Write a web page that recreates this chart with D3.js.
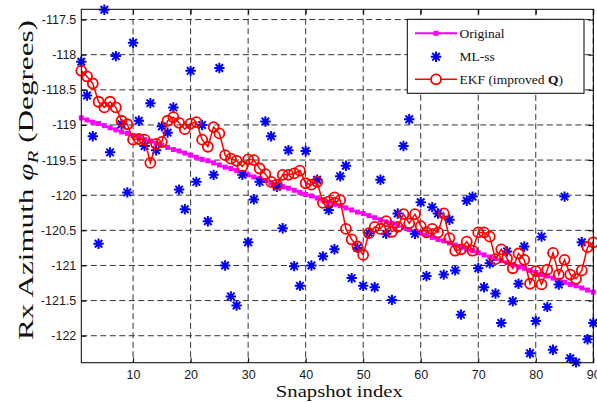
<!DOCTYPE html>
<html>
<head>
<meta charset="utf-8">
<script src="https://cdn.jsdelivr.net/npm/d3@7"></script>
<style>
  body { margin: 0; background: #fff; }
  svg { display: block; }
</style>
</head>
<body>
<script>
'use strict';

{
	// snapshot index 1..90
	let snapshots = d3.range(1, 91);

	let original = [
		-118.90, -118.93, -118.96, -118.98, -119.01, -119.04, -119.07, -119.10, -119.12, -119.15,
		-119.18, -119.21, -119.23, -119.26, -119.29, -119.32, -119.35, -119.37, -119.40, -119.43,
		-119.46, -119.49, -119.51, -119.54, -119.57, -119.60, -119.62, -119.65, -119.68, -119.71,
		-119.74, -119.76, -119.79, -119.82, -119.85, -119.88, -119.90, -119.93, -119.96, -119.99,
		-120.01, -120.04, -120.07, -120.10, -120.13, -120.15, -120.18, -120.21, -120.24, -120.26,
		-120.29, -120.32, -120.35, -120.38, -120.40, -120.43, -120.46, -120.49, -120.52, -120.54,
		-120.57, -120.60, -120.63, -120.65, -120.68, -120.71, -120.74, -120.77, -120.79, -120.82,
		-120.85, -120.88, -120.90, -120.93, -120.96, -120.99, -121.02, -121.04, -121.07, -121.10,
		-121.13, -121.15, -121.18, -121.21, -121.24, -121.27, -121.29, -121.32, -121.35, -121.38
	];

	let mlss = [
		-118.10, -118.58, -119.16, -120.69, -117.36, -119.39, -118.02, -118.99, -119.96, -117.83,
		-118.94, -119.30, -118.69, -119.36, -119.02, -119.11, -118.75, -119.92, -120.20, -118.23,
		-119.81, -119.00, -120.37, -119.71, -118.19, -121.00, -121.44, -121.57, -119.71, -120.67,
		-120.06, -119.81, -118.95, -119.16, -119.88, -120.47, -119.36, -121.01, -121.29, -119.37,
		-121.00, -119.78, -120.87, -120.21, -120.77, -119.73, -119.58, -121.18, -120.75, -121.29,
		-120.54, -121.31, -119.78, -120.55, -121.49, -120.26, -119.30, -118.92, -120.55, -120.10,
		-121.15, -120.17, -120.26, -121.13, -120.35, -121.07, -121.70, -120.08, -120.02, -121.04,
		-121.31, -120.97, -121.40, -121.82, -120.80, -121.51, -121.26, -120.73, -122.25, -121.79,
		-120.59, -121.59, -122.20, -121.27, -120.02, -122.32, -122.38, -120.67, -122.05, -121.82
	];

	let ekf = [
		-118.23, -118.31, -118.41, -118.67, -118.75, -118.67, -118.75, -118.94, -118.99, -119.21,
		-119.20, -119.21, -119.54, -119.27, -119.24, -118.94, -118.89, -118.97, -119.06, -118.98,
		-118.96, -119.21, -119.31, -119.03, -119.12, -119.43, -119.48, -119.51, -119.59, -119.49,
		-119.50, -119.62, -119.70, -119.81, -119.85, -119.71, -119.71, -119.69, -119.65, -119.83,
		-119.85, -119.81, -120.11, -120.09, -120.03, -120.07, -120.48, -120.63, -120.73, -120.85,
		-120.54, -120.45, -120.48, -120.37, -120.52, -120.45, -120.27, -120.40, -120.27, -120.44,
		-120.53, -120.48, -120.53, -120.26, -120.61, -120.79, -120.77, -120.66, -120.79, -120.53,
		-120.53, -120.59, -120.91, -120.77, -120.90, -121.04, -120.83, -120.92, -121.26, -121.08,
		-121.27, -121.06, -120.82, -121.13, -120.92, -121.13, -121.19, -121.07, -120.74, -120.67
	];

	let xTicks = [10, 20, 30, 40, 50, 60, 70, 80, 90];
	let yTicks = [-117.5, -118, -118.5, -119, -119.5, -120, -120.5, -121, -121.5, -122];

	let seriesNames = ["Original", "ML-ss", "EKF (improved "];

	let W = 597, H = 403;
	let box = {left: 81.3, right: 593.3, top: 9.3, bottom: 362.7};

	let svg = d3.select("body").append("svg")
		.attr("width", W)
		.attr("height", H);

	let x = d3.scaleLinear()
		.domain([1, 90])
		.range([box.left, box.right]);

	let y = d3.scaleLinear()
		.domain([-122.384, -117.354])
		.range([box.bottom, box.top]);

	// grid
	let grid = svg.append("g");
	grid.selectAll("line.gx")
		.data(xTicks)
		.enter().append("line")
		.attr("class", "gx")
		.attr("x1", d => x(d)).attr("x2", d => x(d))
		.attr("y1", box.top).attr("y2", box.bottom);
	grid.selectAll("line.gy")
		.data(yTicks)
		.enter().append("line")
		.attr("class", "gy")
		.attr("x1", box.left).attr("x2", box.right)
		.attr("y1", d => y(d)).attr("y2", d => y(d));
	grid.selectAll("line")
		.attr("stroke", "#333")
		.attr("stroke-width", 1)
		.attr("stroke-dasharray", "6,3.5");

	// axes, ticks pointing inward
	let fmt = d => String(d);

	let bottomAxis = svg.append("g")
		.attr("transform", `translate(0,${box.bottom})`)
		.call(d3.axisBottom(x).tickValues(xTicks).tickSizeInner(-5).tickSizeOuter(0).tickPadding(7).tickFormat(fmt));
	let leftAxis = svg.append("g")
		.attr("transform", `translate(${box.left},0)`)
		.call(d3.axisLeft(y).tickValues(yTicks).tickSizeInner(-5).tickSizeOuter(0).tickPadding(5).tickFormat(fmt));
	let topAxis = svg.append("g")
		.attr("transform", `translate(0,${box.top})`)
		.call(d3.axisTop(x).tickValues(xTicks).tickSizeInner(-5).tickSizeOuter(0).tickFormat(""));
	let rightAxis = svg.append("g")
		.attr("transform", `translate(${box.right},0)`)
		.call(d3.axisRight(y).tickValues(yTicks).tickSizeInner(-5).tickSizeOuter(0).tickFormat(""));

	[bottomAxis, leftAxis, topAxis, rightAxis].forEach(a => {
		a.select(".domain").remove();
		a.selectAll(".tick line").attr("stroke", "#000");
		a.selectAll("text")
			.attr("fill", "#1a1a1a")
			.style("font-family", "'Liberation Sans', Arial, sans-serif")
			.style("font-size", "12.5px");
	});

	// markers are not clipped, like matlab
	let plot = svg.append("g");

	// Original
	let line = d3.line()
		.x((d, i) => x(snapshots[i]))
		.y(d => y(d));

	plot.append("path")
		.datum(original)
		.attr("fill", "none")
		.attr("stroke", "#ff00ff")
		.attr("stroke-width", 2)
		.attr("d", line);

	plot.selectAll("rect.orig")
		.data(original)
		.enter().append("rect")
		.attr("class", "orig")
		.attr("x", (d, i) => x(snapshots[i]) - 2.5)
		.attr("y", d => y(d) - 2.5)
		.attr("width", 5).attr("height", 5)
		.attr("fill", "#ff00ff");

	// star marker, like matlab '*'
	function starPath(cx, cy, r) {
		let a = r * 0.72;
		return `M${cx - r},${cy}L${cx + r},${cy}` +
			`M${cx},${cy - r}L${cx},${cy + r}` +
			`M${cx - a},${cy - a}L${cx + a},${cy + a}` +
			`M${cx - a},${cy + a}L${cx + a},${cy - a}`;
	}

	plot.selectAll("path.star")
		.data(mlss)
		.enter().append("path")
		.attr("class", "star")
		.attr("d", (d, i) => starPath(x(snapshots[i]), y(d), 5.2))
		.attr("stroke", "#0000ff")
		.attr("stroke-width", 2)
		.attr("fill", "none");

	// EKF
	plot.append("path")
		.datum(ekf)
		.attr("fill", "none")
		.attr("stroke", "#ff0000")
		.attr("stroke-width", 1.5)
		.attr("d", line);

	plot.selectAll("circle.ekf")
		.data(ekf)
		.enter().append("circle")
		.attr("class", "ekf")
		.attr("cx", (d, i) => x(snapshots[i]))
		.attr("cy", d => y(d))
		.attr("r", 5)
		.attr("fill", "none")
		.attr("stroke", "#ff0000")
		.attr("stroke-width", 1.8);

	// frame
	svg.append("rect")
		.attr("x", box.left).attr("y", box.top)
		.attr("width", box.right - box.left).attr("height", box.bottom - box.top)
		.attr("fill", "none")
		.attr("stroke", "#000")
		.attr("stroke-width", 1);

	// axis labels
	let serif = "'Liberation Serif', 'Times New Roman', serif";

	svg.append("text")
		.attr("x", (box.left + box.right) / 2 + 2)
		.attr("y", 397)
		.attr("text-anchor", "middle")
		.attr("textLength", 127)
		.attr("lengthAdjust", "spacingAndGlyphs")
		.attr("fill", "#111")
		.style("font-family", serif)
		.style("font-size", "17px")
		.text("Snapshot index");

	let yl = svg.append("text")
		.attr("transform", "translate(33,180) rotate(-90)")
		.attr("text-anchor", "middle")
		.attr("textLength", 320)
		.attr("lengthAdjust", "spacingAndGlyphs")
		.attr("fill", "#111")
		.style("font-family", serif)
		.style("font-size", "22px");
	yl.append("tspan").text("Rx Azimuth ");
	yl.append("tspan").style("font-style", "italic").text("\u03C6");
	yl.append("tspan").style("font-style", "italic").style("font-size", "15px").attr("dy", 4.5).text("R");
	yl.append("tspan").attr("dy", -4.5).text(" (Degrees)");

	// legend
	let lg = svg.append("g");
	lg.append("rect")
		.attr("x", 407.3).attr("y", 19.3)
		.attr("width", 176.7).attr("height", 74)
		.attr("fill", "#fff")
		.attr("stroke", "#000")
		.attr("stroke-width", 1);

	let rows = [33.3, 56.7, 79.3];
	let lx1 = 415, lx2 = 457, lm = 436;

	lg.append("line")
		.attr("x1", lx1).attr("x2", lx2).attr("y1", rows[0]).attr("y2", rows[0])
		.attr("stroke", "#ff00ff").attr("stroke-width", 2);
	lg.append("rect")
		.attr("x", lm - 2.5).attr("y", rows[0] - 2.5).attr("width", 5).attr("height", 5)
		.attr("fill", "#ff00ff");

	lg.append("path")
		.attr("d", starPath(lm, rows[1], 5.2))
		.attr("stroke", "#0000ff").attr("stroke-width", 2).attr("fill", "none");

	lg.append("line")
		.attr("x1", lx1).attr("x2", lx2).attr("y1", rows[2]).attr("y2", rows[2])
		.attr("stroke", "#ff0000").attr("stroke-width", 1.5);
	lg.append("circle")
		.attr("cx", lm).attr("cy", rows[2]).attr("r", 5)
		.attr("fill", "#fff").attr("stroke", "#ff0000").attr("stroke-width", 1.8);

	seriesNames.forEach((name, i) => {
		let t = lg.append("text")
			.attr("x", 459.5)
			.attr("y", rows[i] + 4.5)
			.style("font-family", serif)
			.style("font-size", "13.5px")
			.attr("fill", "#111")
			.text(name);
		if (i === 2) {
			t.append("tspan").style("font-weight", "bold").text("Q");
			t.append("tspan").text(")");
		}
	});
}
</script>
</body>
</html>
